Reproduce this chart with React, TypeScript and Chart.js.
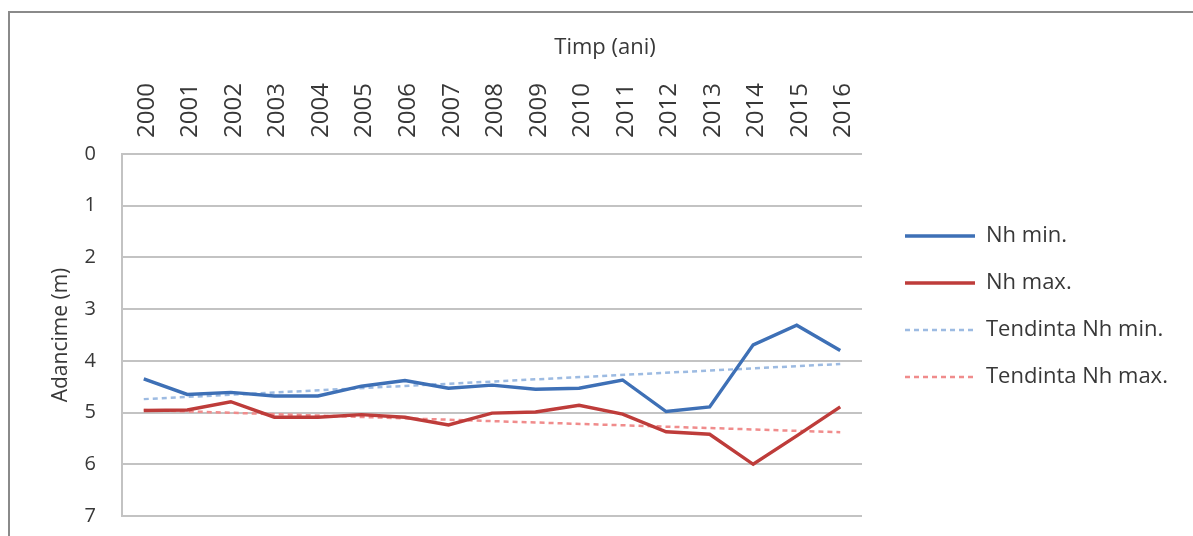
import React, { useEffect, useRef } from 'react';
import { Chart, registerables } from 'chart.js';

Chart.register(...registerables);

const years = ['2000', '2001', '2002', '2003', '2004', '2005', '2006', '2007', '2008', '2009', '2010', '2011', '2012', '2013', '2014', '2015', '2016'];
const nhMin = [4.35, 4.65, 4.61, 4.68, 4.68, 4.49, 4.38, 4.53, 4.47, 4.55, 4.53, 4.37, 4.98, 4.89, 3.69, 3.31, 3.8];
const nhMax = [4.96, 4.95, 4.79, 5.09, 5.09, 5.04, 5.09, 5.24, 5.01, 4.99, 4.86, 5.03, 5.37, 5.42, 6.0, 5.45, 4.89];
const trendMin = [4.74, null, null, null, null, null, null, null, null, null, null, null, null, null, null, null, 4.06];
const trendMax = [4.95, null, null, null, null, null, null, null, null, null, null, null, null, null, null, null, 5.38];
const yTicks = [0, 1, 2, 3, 4, 5, 6, 7];

const FONT = "'Open Sans', sans-serif";
const TEXT = '#383838';
const GRID = '#C3C3C3';

export default function App() {
  const ref = useRef<HTMLCanvasElement>(null);

  useEffect(() => {
    const chart = new Chart(ref.current as HTMLCanvasElement, {
      type: 'line',
      data: {
        labels: years,
        datasets: [
          { label: 'Nh min.', data: nhMin, borderColor: '#3E70B6', backgroundColor: '#3E70B6', borderWidth: 3.4, pointRadius: 0, tension: 0 },
          { label: 'Nh max.', data: nhMax, borderColor: '#BE3C3A', backgroundColor: '#BE3C3A', borderWidth: 3.4, pointRadius: 0, tension: 0 },
          { label: 'Tendinta Nh min.', data: trendMin, borderColor: '#9DBBE2', backgroundColor: 'rgba(0,0,0,0)', borderWidth: 2.5, borderDash: [5, 4], pointRadius: 0, spanGaps: true },
          { label: 'Tendinta Nh max.', data: trendMax, borderColor: '#F08C8C', backgroundColor: 'rgba(0,0,0,0)', borderWidth: 2.5, borderDash: [5, 4], pointRadius: 0, spanGaps: true },
        ],
      },
      options: {
        responsive: false,
        animation: false,
        layout: { padding: { left: 42, right: 25, top: 0, bottom: 20 } },
        scales: {
          x: {
            position: 'top',
            offset: true,
            grid: { display: false },
            border: { display: false },
            ticks: {
              autoSkip: false,
              minRotation: 90,
              maxRotation: 90,
              padding: 8,
              labelOffset: 32,
              color: TEXT,
              font: { family: FONT, size: 24 },
            },
            afterFit: (s: any) => { s.height = 92.6; s.paddingLeft = 0; s.paddingRight = 0; },
          },
          y: {
            reverse: true,
            min: 0,
            max: 7,
            afterBuildTicks: (s: any) => { s.ticks = yTicks.map((v) => ({ value: v })); },
            ticks: { stepSize: 1, padding: 26, color: TEXT, font: { family: FONT, size: 20 } },
            grid: { color: GRID, lineWidth: 2, drawTicks: false },
            border: { color: GRID, width: 2 },
            title: {
              display: true,
              text: 'Adancime (m)',
              color: TEXT,
              font: { family: FONT, size: 21 },
              padding: { top: 6, bottom: 0 },
            },
            afterFit: (s: any) => { s.width = 80; s.paddingTop = 0; s.paddingBottom = 0; },
          },
          y2: {
            position: 'right',
            display: true,
            grid: { display: false },
            border: { display: false },
            ticks: { display: false },
            afterFit: (s: any) => { s.width = 18; s.paddingTop = 0; s.paddingBottom = 0; },
          },
        },
        plugins: {
          title: {
            display: true,
            text: 'Timp (ani)',
            color: TEXT,
            font: { family: FONT, size: 22, weight: 'normal' },
            padding: { top: 35, bottom: 0 },
          },
          legend: {
            position: 'right',
            align: 'start',
            fullSize: false,
            maxWidth: 288,
            title: { display: true, text: '', font: { size: 10, lineHeight: 1 }, padding: { top: 0, bottom: 36 } },
            labels: {
              boxWidth: 70,
              boxHeight: 0,
              padding: 25,
              color: TEXT,
              font: { family: FONT, size: 22 },
            },
          },
          tooltip: { enabled: false },
        },
      } as any,
    });
    return () => chart.destroy();
  }, []);

  return (
    <div style={{ position: 'fixed', left: 0, top: 0, width: 1193, height: 536, overflow: 'hidden', background: '#fff' }}>
      <div style={{ position: 'absolute', left: 8, top: 11, width: 1400, height: 800, borderLeft: '2px solid #8a8a8a', borderTop: '2px solid #8a8a8a' }} />
      <canvas ref={ref} width={1193} height={536} style={{ position: 'absolute', left: 0, top: 0 }} />
    </div>
  );
}
